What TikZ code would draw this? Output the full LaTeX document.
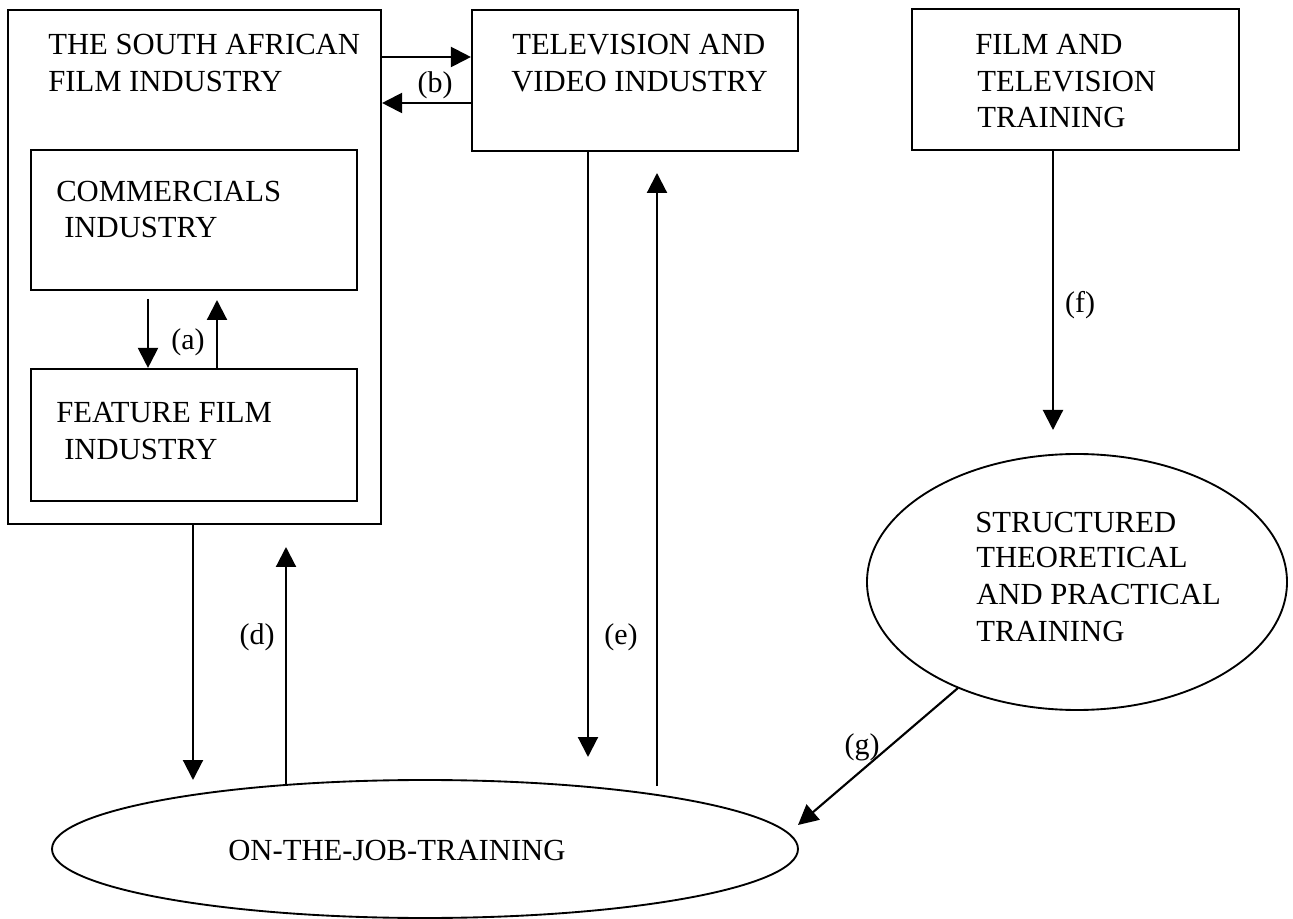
\documentclass[tikz,border=0pt]{standalone}
\usepackage{fontspec}
\setmainfont{Liberation Serif}
\usetikzlibrary{arrows.meta,shapes.geometric}
\begin{document}
\begin{tikzpicture}[x=0.75pt,y=-0.75pt,
  box/.style={draw, line width=1.6pt, inner sep=0pt, rectangle},
  oval/.style={draw, ellipse, line width=1.4pt, inner sep=0pt},
  txt/.style={anchor=base west, inner sep=0pt, font=\fontsize{23}{27}\selectfont},
  lbl/.style={inner sep=0pt, font=\fontsize{22.5}{26}\selectfont},
  arr/.style={line width=1.6pt, -{Triangle[length=15pt,width=15pt]}}]
\useasboundingbox (0,0) rectangle (1293,919);

% boxes
\node[box, minimum width=279.75pt, minimum height=385.5pt] (sa) at (194.5,267) {};
\node[box, minimum width=244.5pt, minimum height=105pt] (comm) at (194,220) {};
\node[box, minimum width=244.5pt, minimum height=99pt] (feat) at (194,435) {};
\node[box, minimum width=244.5pt, minimum height=105.75pt] (tv) at (635,80.5) {};
\node[box, minimum width=245.25pt, minimum height=105.75pt] (ftt) at (1075.5,79.5) {};
% ellipses
\node[oval, minimum width=315pt, minimum height=192pt] (stp) at (1077,582) {};
\node[oval, minimum width=559.5pt, minimum height=103.5pt] (ojt) at (425,849) {};

% texts
\node[txt] (saA) at (48,55) {THE SOUTH AFRICAN};
\node[txt] (saB) at (48,92) {FILM INDUSTRY};
\node[txt] (cmA) at (56,202) {COMMERCIALS};
\node[txt] (cmB) at (64,238) {INDUSTRY};
\node[txt] (ffA) at (56,423) {FEATURE FILM};
\node[txt] (ffB) at (64,460) {INDUSTRY};
\node[txt] (tvA) at (512,55) {TELEVISION AND};
\node[txt] (tvB) at (511,92) {VIDEO INDUSTRY};
\node[txt] (ftA) at (975,55) {FILM AND};
\node[txt] (ftB) at (977,92) {TELEVISION};
\node[txt] (ftC) at (977,128) {TRAINING};
\node[txt] (stA) at (975,533) {STRUCTURED};
\node[txt] (stB) at (976,568) {THEORETICAL};
\node[txt] (stC) at (976,605) {AND PRACTICAL};
\node[txt] (stD) at (976,642) {TRAINING};
\node[txt] (ojA) at (228,860) {ON-THE-JOB-TRAINING};

% helper coordinates
\coordinate (yb1) at (0,57);
\coordinate (yb2) at (0,103);
\coordinate (a1) at (148,299);
\coordinate (a2) at (217,300);
\coordinate (d1) at (193,780);
\coordinate (d2s) at (286,785);
\coordinate (d2e) at (286,547);
\coordinate (e1) at (588,757);
\coordinate (e2s) at (657,786);
\coordinate (e2e) at (657,173);
\coordinate (f1) at (1053,430);
\coordinate (g1) at (958,688);
\coordinate (g2) at (798,825);

% connectors
\draw[arr] (sa.east |- yb1) -- (tv.west |- yb1);
\draw[arr] (tv.west |- yb2) -- (sa.east |- yb2);
\draw[arr] (a1) -- (a1 |- feat.north);
\draw[arr] (a2 |- feat.north) -- (a2);
\draw[arr] (d1 |- sa.south) -- (d1);
\draw[arr] (d2s) -- (d2e);
\draw[arr] (e1 |- tv.south) -- (e1);
\draw[arr] (e2s) -- (e2e);
\draw[arr] (f1 |- ftt.south) -- (f1);
\draw[arr] (g1) -- (g2);

% labels
\node[lbl] (la) at (188,342) {(a)};
\node[lbl] (lb) at (435,85) {(b)};
\node[lbl] (ld) at (257,637) {(d)};
\node[lbl] (le) at (621,637) {(e)};
\node[lbl] (lf) at (1080,305) {(f)};
\node[lbl] (lg) at (862,747) {(g)};
\end{tikzpicture}
\end{document}
